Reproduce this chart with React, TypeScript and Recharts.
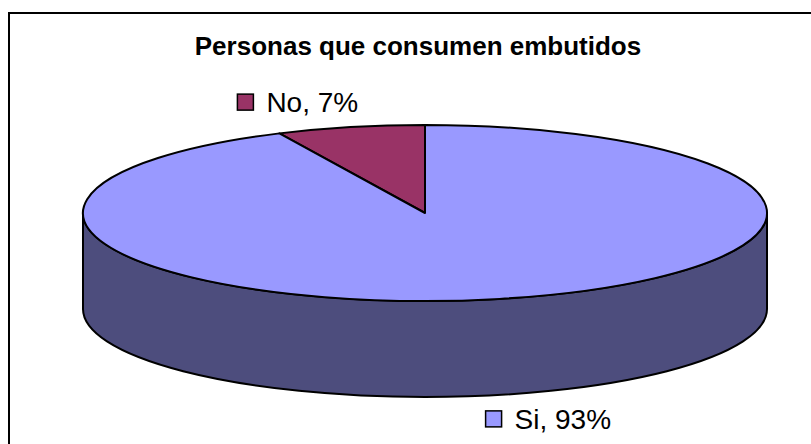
import React from 'react';
import { PieChart, Pie } from 'recharts';

const categories = ['No', 'Si'];
const values = [7, 93];
const sliceColors = ['#993366', '#9999FF'];
const sideColor = '#4D4D7D';
const title = 'Personas que consumen embutidos';

const data = categories.map((name, i) => ({ name, value: values[i], fill: sliceColors[i] }));

const RAD = Math.PI / 180;
const RATIO = 88 / 342;
const DEPTH = 96;

const pointAt = (cx: number, cy: number, rx: number, ry: number, a: number, dy = 0) =>
  [cx + rx * Math.cos(a * RAD), cy - ry * Math.sin(a * RAD) + dy];

const Slice = (props: any) => {
  const { cx, cy, outerRadius, fill } = props;
  const s = Math.min(props.startAngle, props.endAngle);
  const e = Math.max(props.startAngle, props.endAngle);
  const rx = outerRadius;
  const ry = rx * RATIO;
  const sides: string[] = [];
  for (const k of [0, 360]) {
    const lo = Math.max(s, 180 + k);
    const hi = Math.min(e, 360 + k);
    if (hi > lo) {
      const [x1, y1] = pointAt(cx, cy, rx, ry, lo);
      const [x2, y2] = pointAt(cx, cy, rx, ry, hi);
      const large = hi - lo > 180 ? 1 : 0;
      sides.push(
        `M${x1},${y1} A${rx},${ry} 0 ${large} 0 ${x2},${y2} L${x2},${y2 + DEPTH} A${rx},${ry} 0 ${large} 1 ${x1},${y1 + DEPTH} Z`
      );
    }
  }
  const [sx, sy] = pointAt(cx, cy, rx, ry, s);
  const [ex, ey] = pointAt(cx, cy, rx, ry, e);
  const large = e - s > 180 ? 1 : 0;
  const top = `M${cx},${cy} L${sx},${sy} A${rx},${ry} 0 ${large} 0 ${ex},${ey} Z`;
  return (
    <g>
      {sides.map((d, i) => (
        <path key={i} d={d} fill={sideColor} stroke="#000" strokeWidth={2} strokeLinejoin="round" />
      ))}
      <path d={top} fill={fill} stroke="#000" strokeWidth={2} strokeLinejoin="round" />
    </g>
  );
};

const renderLabel = (props: any) => {
  const { cx, cy, midAngle, outerRadius, name, value, fill } = props;
  const rx = outerRadius;
  const ry = rx * RATIO;
  const sin = Math.sin(midAngle * RAD);
  const [ax, ay0] = pointAt(cx, cy, rx, ry, midAngle);
  const ay = sin < 0 ? ay0 + DEPTH : ay0;
  const x0 = sin > 0 ? ax - 113 : ax - 14;
  const base = sin > 0 ? ay - 15 : ay + 34;
  return (
    <g>
      <rect x={x0} y={base - 18} width={16} height={16} fill={fill} stroke="#000" strokeWidth={1.5} />
      <text x={x0 + 29} y={base} fill="#000" fontSize={28} fontFamily="'Liberation Sans', Arial, sans-serif">
        {`${name}, ${value}%`}
      </text>
    </g>
  );
};

export default function App() {
  return (
    <div style={{ position: 'absolute', left: 0, top: 0, width: 811, height: 444, overflow: 'hidden', background: '#fff' }}>
      <div
        style={{
          position: 'absolute',
          left: 8,
          top: 12,
          width: 900,
          height: 600,
          border: '2px solid #000',
          boxSizing: 'border-box',
        }}
      />
      <div
        style={{
          position: 'absolute',
          left: 0,
          top: 33,
          width: 836,
          textAlign: 'center',
          fontFamily: "'Liberation Sans', Arial, sans-serif",
          fontWeight: 'bold',
          fontSize: 26,
          lineHeight: '26px',
          color: '#000',
        }}
      >
        {title}
      </div>
      <div style={{ position: 'absolute', left: 0, top: 0 }}>
        <PieChart width={811} height={444} margin={{ top: 0, right: 0, bottom: 0, left: 0 }}>
          <Pie
            data={data}
            dataKey="value"
            nameKey="name"
            cx={425}
            cy={213}
            outerRadius={342}
            startAngle={90}
            endAngle={450}
            shape={Slice}
            label={renderLabel}
            labelLine={false}
            isAnimationActive={false}
          />
        </PieChart>
      </div>
    </div>
  );
}
